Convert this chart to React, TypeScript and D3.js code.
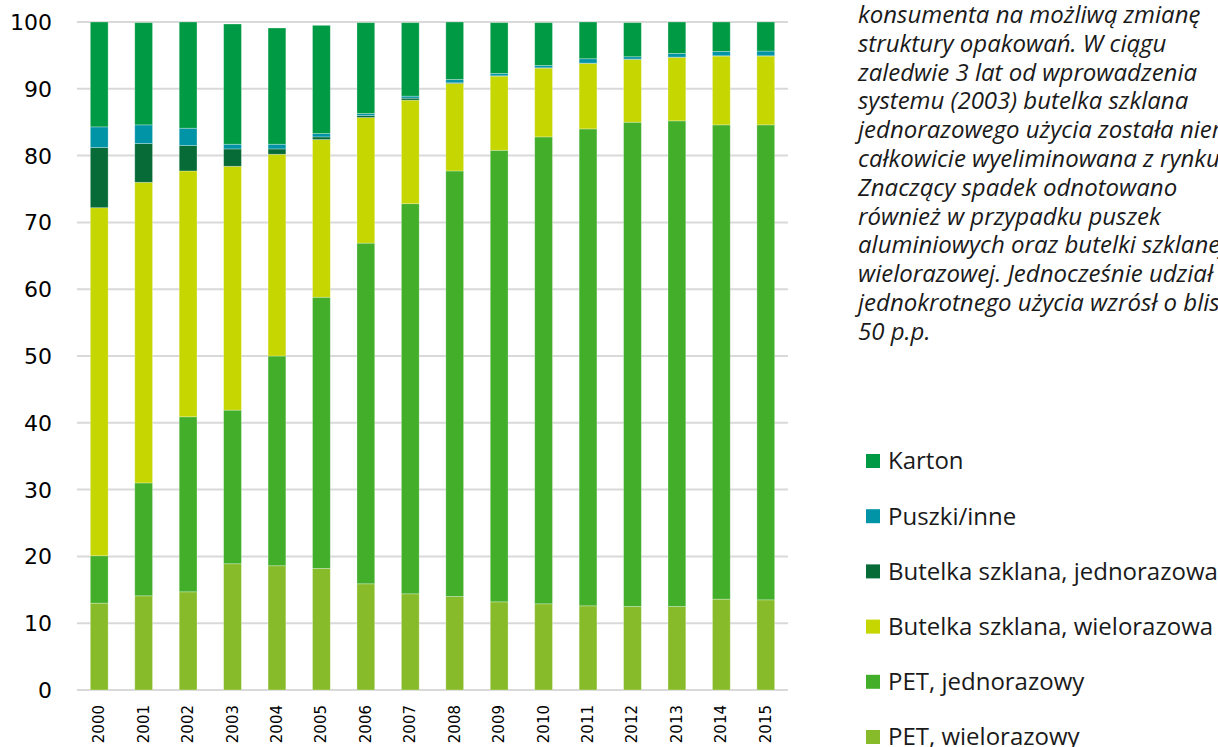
import React from 'react';
import * as d3 from 'd3';

const years = ['2000', '2001', '2002', '2003', '2004', '2005', '2006', '2007', '2008', '2009', '2010', '2011', '2012', '2013', '2014', '2015'];

// shares (%) per year, bottom to top
const petWielorazowy = [13.0, 14.1, 14.7, 18.9, 18.6, 18.2, 15.9, 14.4, 14.0, 13.2, 12.9, 12.6, 12.5, 12.5, 13.6, 13.5];
const petJednorazowy = [7.1, 16.9, 26.2, 23.0, 31.4, 40.6, 51.0, 58.4, 63.7, 67.6, 69.9, 71.4, 72.5, 72.7, 71.0, 71.1];
const szklanaWielorazowa = [52.1, 45.0, 36.8, 36.5, 30.2, 23.6, 18.8, 15.5, 13.1, 11.1, 10.3, 9.8, 9.4, 9.5, 10.3, 10.3];
const szklanaJednorazowa = [9.0, 5.8, 3.8, 2.6, 0.8, 0.4, 0.3, 0.3, 0.1, 0.05, 0.05, 0.05, 0.05, 0.05, 0.05, 0.05];
const puszkiInne = [3.1, 2.8, 2.6, 0.7, 0.7, 0.5, 0.3, 0.3, 0.5, 0.35, 0.35, 0.65, 0.35, 0.55, 0.65, 0.7];
const karton = [15.7, 15.3, 15.9, 18.0, 17.4, 16.2, 13.6, 11.0, 8.6, 7.6, 6.4, 5.5, 5.1, 4.7, 4.4, 4.35];

const yTicks = [0, 10, 20, 30, 40, 50, 60, 70, 80, 90, 100];

const seriesNames = ['PET, wielorazowy', 'PET, jednorazowy', 'Butelka szklana, wielorazowa', 'Butelka szklana, jednorazowa', 'Puszki/inne', 'Karton'];
const seriesValues = [petWielorazowy, petJednorazowy, szklanaWielorazowa, szklanaJednorazowa, puszkiInne, karton];
const seriesColors = ['#88bb2a', '#43ae2a', '#c5d600', '#066b37', '#0094a6', '#009a44'];

const noteLines = [
  'konsumenta na możliwą zmianę',
  'struktury opakowań. W ciągu',
  'zaledwie 3 lat od wprowadzenia',
  'systemu (2003) butelka szklana',
  'jednorazowego użycia została niemal',
  'całkowicie wyeliminowana z rynku.',
  'Znaczący spadek odnotowano',
  'również w przypadku puszek',
  'aluminiowych oraz butelki szklanej',
  'wielorazowej. Jednocześnie udział PET',
  'jednokrotnego użycia wzrósł o blisko',
  '50 p.p.',
];

const W = 1218;
const H = 747;

const App: React.FC = () => {
  const x = d3.scaleBand().domain(years).range([77, 788]).paddingInner(0.6).paddingOuter(0.3);
  const y = d3.scaleLinear().domain([0, 100]).range([690, 22]);

  const rows = years.map((yr, i) => {
    const row: any = { year: yr };
    seriesNames.forEach((n, s) => { row[n] = seriesValues[s][i]; });
    return row;
  });
  const stacked = d3.stack<any>().keys(seriesNames)(rows);

  // legend order: top series first
  const legendOrder = [5, 4, 3, 2, 1, 0];

  return (
    <svg width={W} height={H} style={{ position: 'fixed', left: 0, top: 0, background: '#fff' }}>
      {yTicks.map(t => (
        <g key={t}>
          <line x1={77} x2={788} y1={y(t)} y2={y(t)} stroke="#d9d9d9" strokeWidth={2} />
          <text x={52} y={y(t)} dy="0.36em" textAnchor="end" fontFamily="DejaVu Sans" fontSize={22} fill="#000">{t}</text>
        </g>
      ))}

      {stacked.map((layer, s) => (
        <g key={layer.key} fill={seriesColors[s]}>
          {layer.map((d, i) => (
            <rect
              key={i}
              x={x(years[i])}
              y={y(d[1])}
              width={x.bandwidth()}
              height={Math.max(0, y(d[0]) - y(d[1]))}
              stroke="#ffffff"
              strokeOpacity={0.35}
              strokeWidth={0.8}
            />
          ))}
        </g>
      ))}

      {years.map(yr => {
        const cx = (x(yr) ?? 0) + x.bandwidth() / 2;
        return (
          <text key={yr} transform={`translate(${cx + 5},705) rotate(-90)`} textAnchor="end" fontFamily="DejaVu Sans" fontSize={15} fill="#000">{yr}</text>
        );
      })}

      <g fontFamily="Open Sans, Noto Sans" fontStyle="italic" fontSize={24} fill="#1a1a1a">
        {noteLines.map((l, i) => (
          <text key={i} x={858} y={23 + i * 28.8}>{l}</text>
        ))}
      </g>

      <g fontFamily="Open Sans, Noto Sans" fontSize={24} fill="#1a1a1a">
        {legendOrder.map((s, k) => {
          const ly = 461 + k * 55.2;
          return (
            <g key={s}>
              <rect x={866} y={ly - 7} width={14} height={14} fill={seriesColors[s]} />
              <text x={888} y={ly} dy="0.35em">{seriesNames[s]}</text>
            </g>
          );
        })}
      </g>
    </svg>
  );
};

export default App;
